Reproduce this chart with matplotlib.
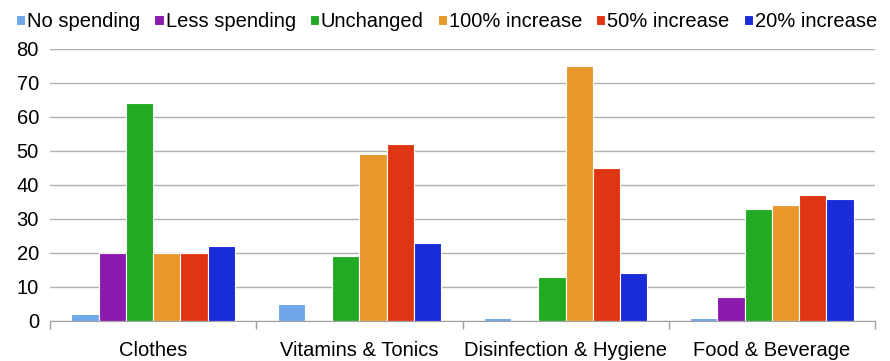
import matplotlib.pyplot as plt
import numpy as np

plt.rcParams['font.family'] = ['Liberation Sans', 'DejaVu Sans']

categories = ["Clothes", "Vitamins & Tonics", "Disinfection & Hygiene", "Food & Beverage"]
series_names = ["No spending", "Less spending", "Unchanged", "100% increase", "50% increase", "20% increase"]
no_spending = [2, 5, 1, 1]
less_spending = [20, 0, 0, 7]
unchanged = [64, 19, 13, 33]
inc_100 = [20, 49, 75, 34]
inc_50 = [20, 52, 45, 37]
inc_20 = [22, 23, 14, 36]
yticks = [0, 10, 20, 30, 40, 50, 60, 70, 80]

series = [no_spending, less_spending, unchanged, inc_100, inc_50, inc_20]
colors = ["#6FA8EA", "#8B1AAE", "#22AA22", "#E8972B", "#E03512", "#1A2BD8"]

fig = plt.figure(figsize=(8.9, 3.61), dpi=100)
ax = fig.add_axes([50/890, 40/361, 825/890, 272/361])

x = np.arange(len(categories))
bw = 0.132
for i, (vals, c, name) in enumerate(zip(series, colors, series_names)):
    ax.bar(x + (i - 2.5) * bw, vals, bw, color=c, edgecolor="white", linewidth=0.8,
           label=name, zorder=3)

ax.set_xlim(-0.5, len(categories) - 0.5)
ax.set_ylim(0, 80)
ax.set_yticks(yticks)
ax.set_yticklabels([str(v) for v in yticks], fontsize=14.5)
ax.yaxis.grid(True, color="#B0B0B0", linewidth=1, zorder=0)
ax.tick_params(axis="y", length=0, pad=8)

ax.set_xticks(np.arange(-0.5, len(categories), 1))
ax.set_xticklabels([])
ax.tick_params(axis="x", length=6, color="#A0A0A0", width=1)
for xi, cat in zip(x, categories):
    ax.text(xi, -5.8, cat, ha="center", va="top", fontsize=14.5, transform=ax.transData)

for s in ["top", "right", "left"]:
    ax.spines[s].set_visible(False)
ax.spines["bottom"].set_color("#A0A0A0")
ax.spines["bottom"].set_zorder(4)

leg = fig.legend(loc="upper right", bbox_to_anchor=(0.998, 0.997), ncol=6, frameon=False,
                 fontsize=14.5, handlelength=0.45, handleheight=0.45, handletextpad=0.1,
                 columnspacing=0.7, borderaxespad=0.15)

fig.savefig("out.png", dpi=100)
